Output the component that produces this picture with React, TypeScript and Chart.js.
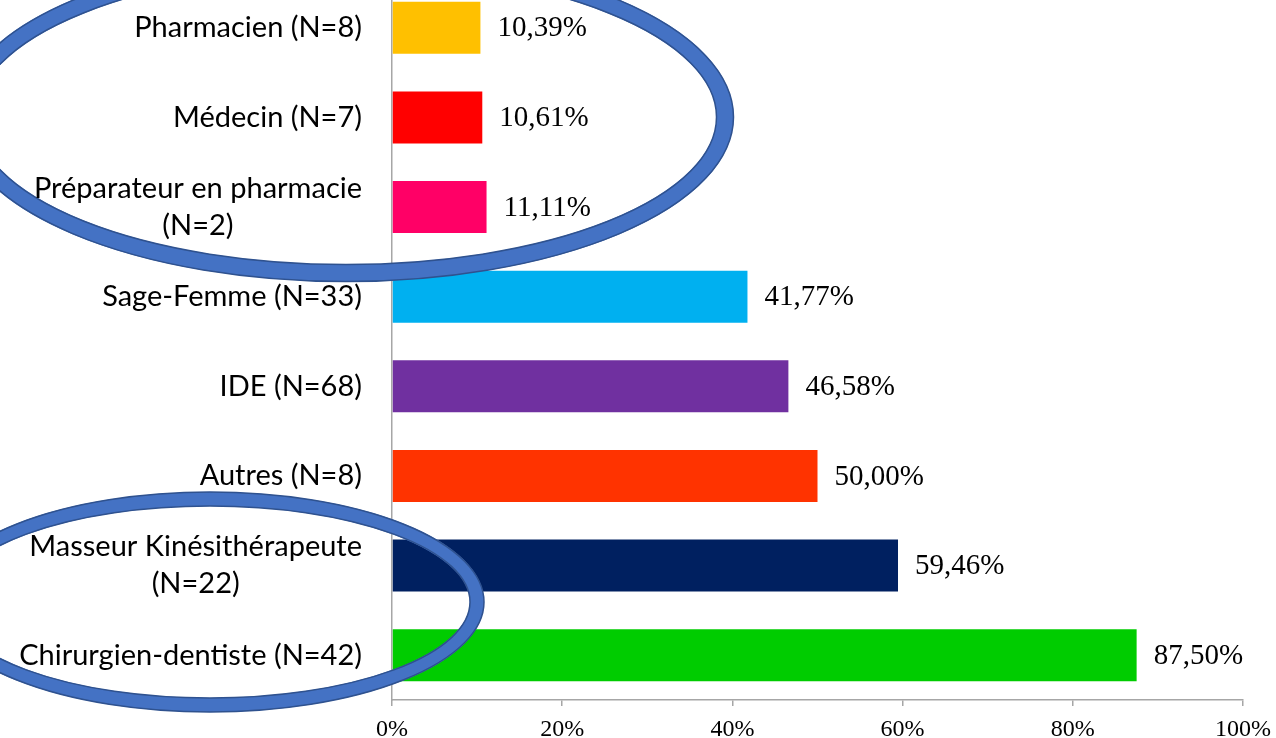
import React, { useEffect, useRef } from "react";
import { Chart, registerables } from "chart.js";

Chart.register(...registerables);

const categories: string[][] = [
  ["Pharmacien (N=8)"],
  ["Médecin (N=7)"],
  ["Préparateur en pharmacie", "(N=2)"],
  ["Sage-Femme (N=33)"],
  ["IDE (N=68)"],
  ["Autres (N=8)"],
  ["Masseur Kinésithérapeute", "(N=22)"],
  ["Chirurgien-dentiste (N=42)"],
];
const values = [10.39, 10.61, 11.11, 41.77, 46.58, 50.0, 59.46, 87.5];
const barColors = ["#FFC000", "#FF0000", "#FF0066", "#00B0F0", "#7030A0", "#FF3300", "#002060", "#00CC00"];
const xTickMax = 100;
const xTickStep = 20;

const CANVAS_W = 1276;
const CANVAS_H = 778;
const OFFSET_Y = 40; // canvas is shifted up so the plot top is cut like in the reference

// highlight ellipses (page coordinates): cx, cy, rx, ry, ring thickness
const ellipses = [
  { cx: 346, cy: 117, rx: 379, ry: 156, t: 17 },
  { cx: 210, cy: 602, rx: 267, ry: 103, t: 14 },
];

const overlayPlugin = {
  id: "overlay",
  afterDatasetsDraw(chart: any) {
    const ctx = chart.ctx as CanvasRenderingContext2D;
    const yScale = chart.scales.y;
    const xScale = chart.scales.x;
    ctx.save();
    // value labels
    ctx.font = '29px "Liberation Serif"';
    ctx.fillStyle = "#000";
    ctx.textAlign = "left";
    ctx.textBaseline = "middle";
    values.forEach((v, i) => {
      const x = xScale.getPixelForValue(v) + 17;
      const y = yScale.getPixelForValue(i);
      ctx.fillText(v.toFixed(2).replace(".", ",") + "%", x, y + 1);
    });
    // ellipses
    ellipses.forEach((e) => {
      const cy = e.cy + OFFSET_Y;
      ctx.beginPath();
      ctx.ellipse(e.cx, cy, e.rx, e.ry, 0, 0, Math.PI * 2);
      ctx.lineWidth = e.t;
      ctx.strokeStyle = "#4472C4";
      ctx.stroke();
      ctx.lineWidth = 1.5;
      ctx.strokeStyle = "#2F528F";
      ctx.beginPath();
      ctx.ellipse(e.cx, cy, e.rx + e.t / 2, e.ry + e.t / 2, 0, 0, Math.PI * 2);
      ctx.stroke();
      ctx.beginPath();
      ctx.ellipse(e.cx, cy, e.rx - e.t / 2, e.ry - e.t / 2, 0, 0, Math.PI * 2);
      ctx.stroke();
    });
    // category labels
    ctx.font = '29px Lato';
    ctx.fillStyle = "#000";
    ctx.textAlign = "center";
    ctx.textBaseline = "middle";
    const lineH = 37;
    const rightEdge = yScale.right - 30;
    categories.forEach((lines, i) => {
      const yc = yScale.getPixelForValue(i);
      const widest = Math.max(...lines.map((l) => ctx.measureText(l).width));
      const xc = rightEdge - widest / 2;
      const y0 = yc - ((lines.length - 1) * lineH) / 2;
      lines.forEach((l, j) => ctx.fillText(l, xc, y0 + j * lineH));
    });
    ctx.restore();
  },
};

export default function App() {
  const canvasRef = useRef<HTMLCanvasElement | null>(null);

  useEffect(() => {
    const canvas = canvasRef.current;
    if (!canvas) return;
    const chart = new Chart(canvas, {
      type: "bar",
      data: {
        labels: categories.map((c) => c.join(" ")),
        datasets: [
          {
            data: values,
            backgroundColor: barColors,
            borderWidth: 0,
            barPercentage: 0.58,
            categoryPercentage: 1,
          },
        ],
      },
      options: {
        indexAxis: "y",
        responsive: false,
        animation: false,
        devicePixelRatio: 1,
        layout: { padding: { top: 23, right: 33, left: 0, bottom: 0 } },
        plugins: { legend: { display: false }, tooltip: { enabled: false }, title: { display: false } },
        scales: {
          x: {
            min: 0,
            max: xTickMax,
            afterFit: (s: any) => {
              s.height = 38;
              s.paddingLeft = 0;
              s.paddingRight = 0;
            },
            ticks: {
              stepSize: xTickStep,
              callback: (v: any) => v + "%",
              color: "#000",
              font: { family: '"Liberation Serif"', size: 24 },
              padding: 9,
              maxRotation: 0,
            },
            grid: { display: true, drawOnChartArea: false, drawTicks: true, tickLength: 6, color: "#a6a6a6", lineWidth: 1.5 },
            border: { display: true, color: "#a6a6a6", width: 1.5 },
          },
          y: {
            afterFit: (s: any) => {
              s.width = 392;
              s.paddingTop = 0;
              s.paddingBottom = 0;
            },
            ticks: { display: false },
            grid: { display: false },
            border: { display: true, color: "#a6a6a6", width: 1.5 },
          },
        },
      },
      plugins: [overlayPlugin],
    });
    return () => chart.destroy();
  }, []);

  return (
    <div style={{ position: "absolute", left: 0, top: 0, width: CANVAS_W, height: 738, overflow: "hidden", background: "#fff" }}>
      <canvas
        ref={canvasRef}
        width={CANVAS_W}
        height={CANVAS_H}
        style={{ position: "absolute", left: 0, top: -OFFSET_Y, width: CANVAS_W, height: CANVAS_H }}
      />
    </div>
  );
}
